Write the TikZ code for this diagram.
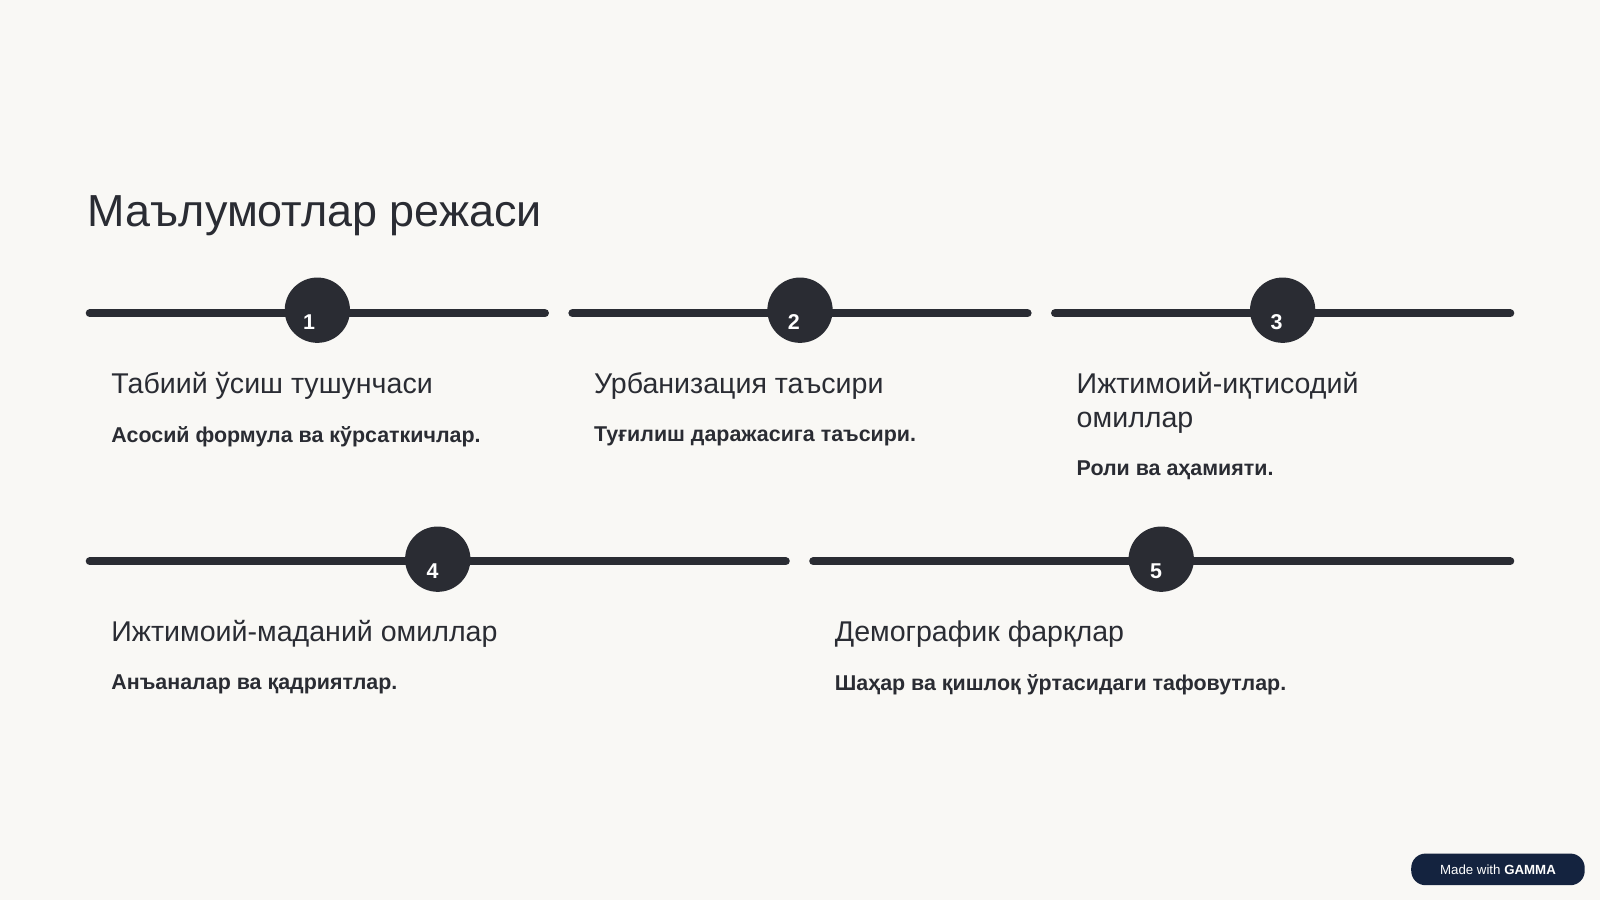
\documentclass[tikz,border=0pt]{standalone}
\usepackage{fontspec}
\setmainfont{Liberation Sans}
\definecolor{bg}{HTML}{F9F8F5}
\definecolor{dk}{HTML}{2A2C33}
\definecolor{navy}{HTML}{14233F}
\begin{document}
\begin{tikzpicture}[x=1pt,y=-1pt,
 bar/.style={line width=8pt,line cap=round,dk},
 dot/.style={circle,fill=dk,minimum size=64pt,inner sep=0pt},
 num/.style={text=white,font=\fontsize{21}{24}\selectfont\bfseries,inner sep=0pt},
 head/.style={anchor=north west,inner sep=0pt,text=dk,font=\fontsize{28}{33}\selectfont,align=left},
 sub/.style={anchor=north west,inner sep=0pt,text=dk,font=\fontsize{21}{24}\selectfont\bfseries}]
\fill[bg] (0,0) rectangle (1568,882);
\useasboundingbox (0,0) rectangle (1568,882);
\node[anchor=west,inner sep=0pt,text=dk,font=\fontsize{44}{50}\selectfont] (t) at (86,211) {Маълумотлар режаси};
% row 1
\coordinate (a1) at (88,307); \coordinate (b1) at (534,307);
\coordinate (a2) at (561,307); \coordinate (b2) at (1007,307);
\coordinate (a3) at (1034,307); \coordinate (b3) at (1480,307);
\draw[bar] (a1) -- (b1); \draw[bar] (a2) -- (b2); \draw[bar] (a3) -- (b3);
\node[dot] (c1) at (311,304) {}; \node[num] (n1) at (303,316) {1};
\node[dot] (c2) at (784,304) {}; \node[num] (n2) at (778,316) {2};
\node[dot] (c3) at (1257,304) {}; \node[num] (n3) at (1251,316) {3};
\node[head] (h1) at (109,365) {Табиий ўсиш тушунчаси};
\node[head] (h2) at (582,365) {Урбанизация таъсири};
\node[head] (h3) at (1055,365) {Ижтимоий-иқтисодий\\омиллар};
\node[sub] (s1) at (109,418) {Асосий формула ва кўрсаткичлар.};
\node[sub] (s2) at (582,418) {Туғилиш даражасига таъсири.};
\node[sub] (s3) at (1055,451) {Роли ва аҳамияти.};
% row 2
\coordinate (a4) at (88,550); \coordinate (b4) at (770,550);
\coordinate (a5) at (797,550); \coordinate (b5) at (1480,550);
\draw[bar] (a4) -- (b4); \draw[bar] (a5) -- (b5);
\node[dot] (c4) at (429,548) {}; \node[num] (n4) at (424,560) {4};
\node[dot] (c5) at (1138,548) {}; \node[num] (n5) at (1133,560) {5};
\node[head] (h4) at (109,608) {Ижтимоий-маданий омиллар};
\node[head] (h5) at (818,608) {Демографик фарқлар};
\node[sub] (s4) at (109,661) {Анъаналар ва қадриятлар.};
\node[sub] (s5) at (818,661) {Шаҳар ва қишлоқ ўртасидаги тафовутлар.};
% badge
\node[fill=navy,rounded corners=14pt,minimum width=170pt,minimum height=31pt,inner sep=0pt,text=white,font=\fontsize{13}{15}\selectfont] (g) at (1468,852) {Made with \textbf{GAMMA}};
\end{tikzpicture}
\end{document}
